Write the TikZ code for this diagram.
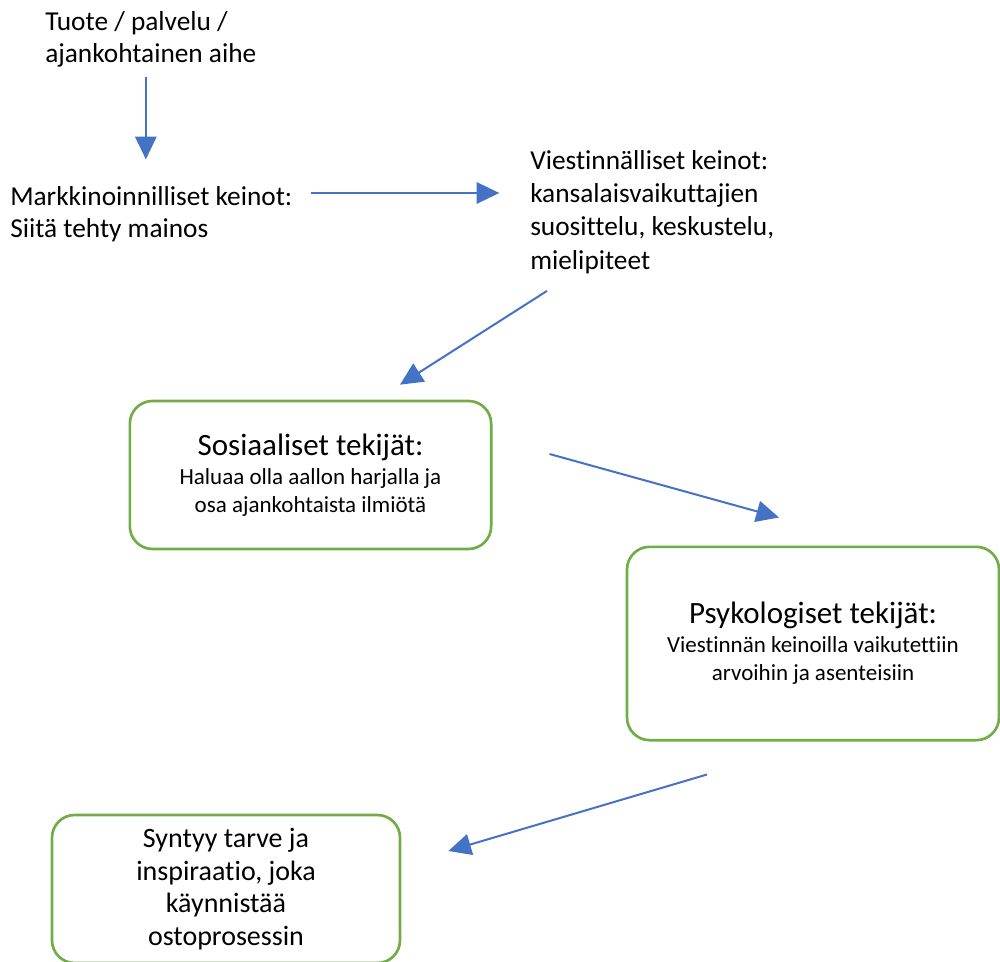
\documentclass[tikz,border=0pt]{standalone}
\usepackage{fontspec}
\setmainfont{Carlito}[Ligatures={NoCommon}]
\usetikzlibrary{arrows.meta,calc,positioning}

\definecolor{arrowblue}{HTML}{4472C4}
\definecolor{boxgreen}{HTML}{70AD47}

\tikzset{
  freetext/.style={anchor=north west,inner sep=0pt,align=left,
    font=\fontsize{20.5}{24.4}\selectfont},
  factor/.style={draw=boxgreen,line width=2pt,rounded corners=17pt,
    align=center,inner sep=0pt,font=\fontsize{17.25}{21}\selectfont},
  arr/.style={draw=arrowblue,line width=1.5pt,
    -{Triangle[length=17pt,width=16pt]}}
}
\newcommand{\factortitle}[1]{{\fontsize{23.25}{28}\selectfont #1}}

\begin{document}
\begin{tikzpicture}[x=0.75pt,y=-0.75pt]
    \useasboundingbox (0,0) rectangle (1000,962);

    % texts
    \node[freetext] (tuote) at (45,11) {Tuote / palvelu /\\ajankohtainen aihe};
    \node[freetext] (mark) at (10,186) {Markkinoinnilliset keinot:\\Siitä tehty mainos};
    \node[freetext,font=\fontsize{20.5}{25}\selectfont] (viest) at (530,150)
      {Viestinnälliset keinot:\\kansalaisvaikuttajien\\suosittelu, keskustelu,\\mielipiteet};

    % factor boxes
    \node[factor,minimum width=271pt,minimum height=111pt] (sos) at (310.5,475)
      {\factortitle{Sosiaaliset tekijät:}\\[1pt]Haluaa olla aallon harjalla ja\\osa ajankohtaista ilmiötä};
    \node[factor,minimum width=279pt,minimum height=145pt] (psy) at (813,643.5)
      {\factortitle{Psykologiset tekijät:}\\[1pt]Viestinnän keinoilla vaikutettiin\\arvoihin ja asenteisiin};
    \node[factor,minimum width=261pt,minimum height=111pt,
      font=\fontsize{21}{24.4}\selectfont] (tarve) at (226,889)
      {Syntyy tarve ja\\inspiraatio, joka\\käynnistää\\ostoprosessin};

    % arrows
    \draw[arr,shorten >=20pt] ($(tuote.south)+(-5,9)$) coordinate (t1) -- (t1 |- mark.north);
    \draw[arr,shorten >=23pt] ($(mark.north east)+(18,7)$) coordinate (m1) -- (m1 -| viest.west);
    \draw[arr] ($(viest.south west)+(17,17)$) -- ($(sos.north)+(89.5,-15)$);
    \draw[arr] ($(sos.east)+(57,-21)$) -- ($(psy.north)+(-34,-28)$);
    \draw[arr] ($(psy.south)+(-106,33)$) -- ($(tarve.east)+(47,-38)$);
\end{tikzpicture}
\end{document}
